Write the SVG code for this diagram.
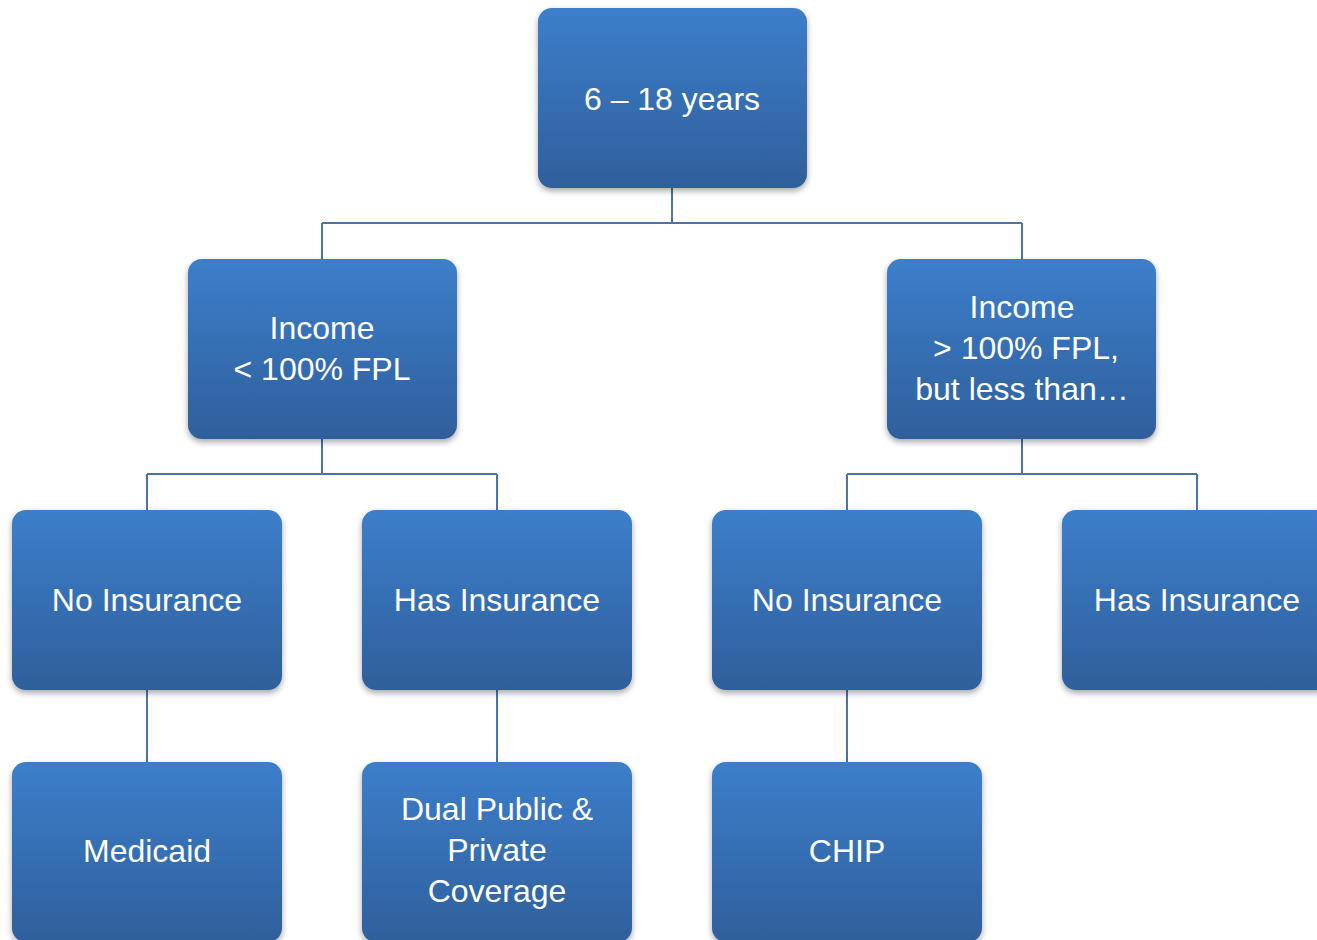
<svg xmlns="http://www.w3.org/2000/svg" width="1317" height="940" viewBox="0 0 1317 940">
<defs>
<linearGradient id="g" x1="0" y1="0" x2="0" y2="1">
<stop offset="0" stop-color="#3c7ecb"/>
<stop offset="1" stop-color="#2f5f9b"/>
</linearGradient>
<filter id="sh" x="-10%" y="-10%" width="120%" height="125%">
<feDropShadow dx="0" dy="3" stdDeviation="3" flood-color="#000" flood-opacity="0.35"/>
</filter>
</defs>
<style>
.box{fill:url(#g);filter:url(#sh)}
.t{fill:#fff;font-family:"Liberation Sans",Arial,sans-serif;font-size:32px;text-anchor:middle}
.c{stroke:#4a74a8;stroke-width:2;fill:none}
</style>
<rect width="1317" height="940" fill="#fff"/>
<g id="connectors">
<path class="c" d="M672 188V223M322 223H1022M322 223V260M1022 223V260"/>
<path class="c" d="M322 439V474M147 474H497M147 474V511M497 474V511"/>
<path class="c" d="M1022 439V474M847 474H1197M847 474V511M1197 474V511"/>
<path class="c" d="M147 690V762M497 690V762M847 690V762"/>
</g>
<g id="n-root"><rect class="box" x="538" y="8" width="269" height="180" rx="14"/><text class="t" x="672" y="110">6 – 18 years</text></g>
<g id="n-income-low"><rect class="box" x="188" y="259" width="269" height="180" rx="14"/><text class="t" x="322" y="339">Income</text><text class="t" x="322" y="380">&lt; 100% FPL</text></g>
<g id="n-income-high"><rect class="box" x="887" y="259" width="269" height="180" rx="14"/><text class="t" x="1022" y="318">Income</text><text class="t" x="1026" y="359">&gt; 100% FPL,</text><text class="t" x="1022" y="400">but less than…</text></g>
<g id="n-no-ins-1"><rect class="box" x="12" y="510" width="270" height="180" rx="14"/><text class="t" x="147" y="611">No Insurance</text></g>
<g id="n-has-ins-1"><rect class="box" x="362" y="510" width="270" height="180" rx="14"/><text class="t" x="497" y="611">Has Insurance</text></g>
<g id="n-no-ins-2"><rect class="box" x="712" y="510" width="270" height="180" rx="14"/><text class="t" x="847" y="611">No Insurance</text></g>
<g id="n-has-ins-2"><rect class="box" x="1062" y="510" width="270" height="180" rx="14"/><text class="t" x="1197" y="611">Has Insurance</text></g>
<g id="n-medicaid"><rect class="box" x="12" y="762" width="270" height="180" rx="14"/><text class="t" x="147" y="862">Medicaid</text></g>
<g id="n-dual"><rect class="box" x="362" y="762" width="270" height="180" rx="14"/><text class="t" x="497" y="820">Dual Public &amp;</text><text class="t" x="497" y="861">Private</text><text class="t" x="497" y="902">Coverage</text></g>
<g id="n-chip"><rect class="box" x="712" y="762" width="270" height="180" rx="14"/><text class="t" x="847" y="862">CHIP</text></g>
</svg>
